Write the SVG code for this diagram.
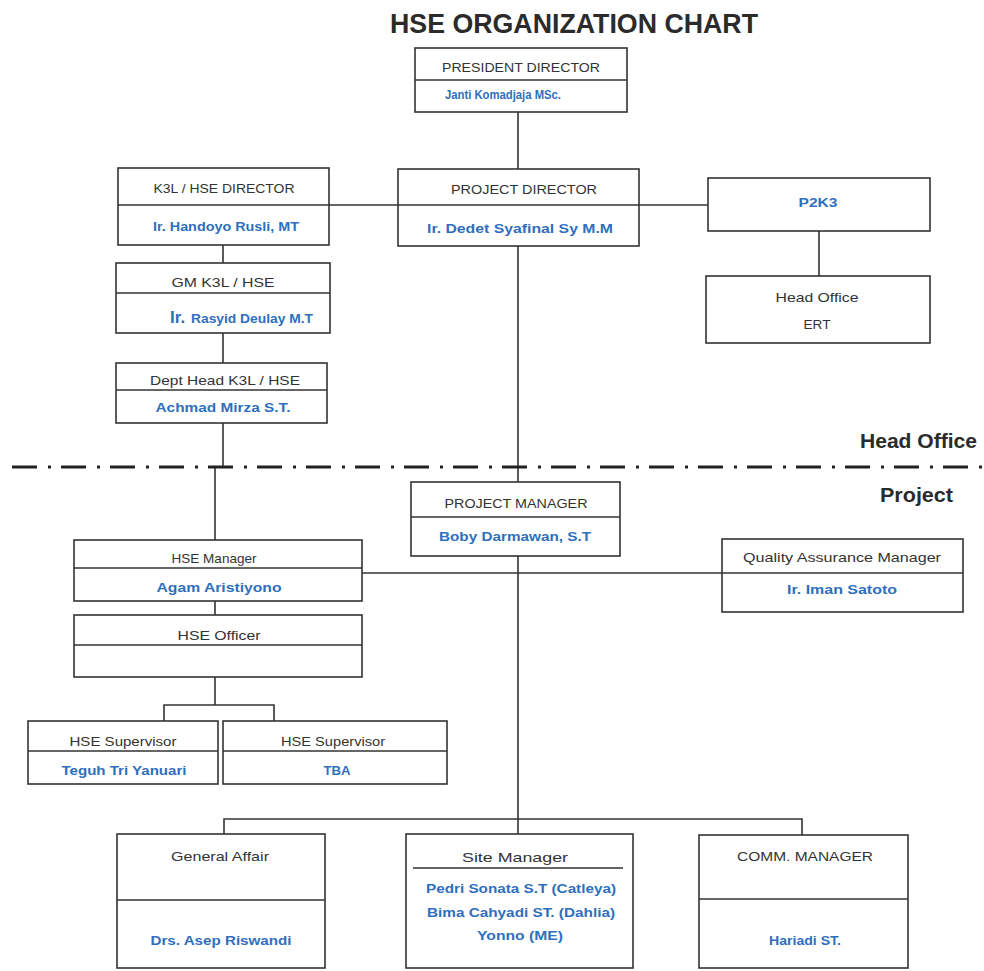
<svg xmlns="http://www.w3.org/2000/svg" width="984" height="971" viewBox="0 0 984 971">
<style>
.box{fill:#fff;stroke:#333;stroke-width:1.6}
.div{stroke:#333;stroke-width:1.4;fill:none}
.con{stroke:#333;stroke-width:1.6;fill:none}
.h{font-family:"Liberation Sans",Arial,sans-serif;font-size:13px;fill:#333;text-anchor:middle}
.n{font-family:"Liberation Sans",Arial,sans-serif;font-size:12px;font-weight:bold;fill:#2f6fbd;text-anchor:middle}
.lbl{font-family:"Liberation Sans",Arial,sans-serif;font-size:21px;font-weight:bold;fill:#2b2b2b}
.title{font-family:"Liberation Sans",Arial,sans-serif;font-size:27px;font-weight:bold;fill:#2b2b2b;text-anchor:middle}
</style>
<rect width="984" height="971" fill="#fff"/>
<text class="title" x="574" y="33" textLength="368" lengthAdjust="spacingAndGlyphs">HSE ORGANIZATION CHART</text>

<g id="connectors">
<path class="con" d="M518 112 V169"/>
<path class="con" d="M329 205 H708"/>
<path class="con" d="M223 245 V263"/>
<path class="con" d="M223 333 V363"/>
<path class="con" d="M223 423 V467"/>
<path class="con" d="M215 467 V540"/>
<path class="con" d="M518 246 V482"/>
<path class="con" d="M819 231 V276"/>
<path class="con" d="M518 556 V834"/>
<path class="con" d="M362 573 H722"/>
<path class="con" d="M215 601 V615"/>
<path class="con" d="M215 677 V705"/>
<path class="con" d="M164 721 V705 H274 V721"/>
<path class="con" d="M224 834 V819 H802 V835"/>
</g>

<g id="divider-line">
<line x1="12" y1="467" x2="984" y2="467" stroke="#222" stroke-width="3" stroke-dasharray="25 11 3 10"/>
<text class="lbl" x="977" y="448" text-anchor="end" textLength="117" lengthAdjust="spacingAndGlyphs">Head Office</text>
<text class="lbl" x="953" y="502" text-anchor="end" textLength="73" lengthAdjust="spacingAndGlyphs">Project</text>
</g>

<g id="president-director">
<rect class="box" x="415" y="48" width="212" height="64"/>
<line class="div" x1="415" y1="80" x2="627" y2="80"/>
<text class="h" x="521" y="72" textLength="158" lengthAdjust="spacingAndGlyphs">PRESIDENT DIRECTOR</text>
<text class="n" x="503" y="99" textLength="116" lengthAdjust="spacingAndGlyphs">Janti Komadjaja MSc.</text>
</g>

<g id="k3l-hse-director">
<rect class="box" x="118" y="168" width="211" height="77"/>
<line class="div" x1="118" y1="205" x2="329" y2="205"/>
<text class="h" x="224" y="193" textLength="141" lengthAdjust="spacingAndGlyphs">K3L / HSE DIRECTOR</text>
<text class="n" x="226" y="231" textLength="146" lengthAdjust="spacingAndGlyphs">Ir. Handoyo Rusli, MT</text>
</g>

<g id="project-director">
<rect class="box" x="398" y="169" width="241" height="77"/>
<line class="div" x1="398" y1="205" x2="639" y2="205"/>
<text class="h" x="524" y="194" textLength="146" lengthAdjust="spacingAndGlyphs">PROJECT DIRECTOR</text>
<text class="n" x="520" y="233" textLength="186" lengthAdjust="spacingAndGlyphs">Ir. Dedet Syafinal Sy M.M</text>
</g>

<g id="p2k3">
<rect class="box" x="708" y="178" width="222" height="53"/>
<text class="n" x="818" y="207" textLength="39" lengthAdjust="spacingAndGlyphs">P2K3</text>
</g>

<g id="head-office-ert">
<rect class="box" x="706" y="276" width="224" height="67"/>
<text class="h" x="817" y="302" textLength="83" lengthAdjust="spacingAndGlyphs">Head Office</text>
<text class="h" x="817" y="329" textLength="27" lengthAdjust="spacingAndGlyphs">ERT</text>
</g>

<g id="gm-k3l-hse">
<rect class="box" x="116" y="263" width="214" height="70"/>
<line class="div" x1="116" y1="293" x2="330" y2="293"/>
<text class="h" x="223" y="287" textLength="103" lengthAdjust="spacingAndGlyphs">GM K3L / HSE</text>
<text class="n" x="170" y="323" style="text-anchor:start;font-size:17px">Ir.</text>
<text class="n" x="191" y="323" style="text-anchor:start" textLength="122" lengthAdjust="spacingAndGlyphs">Rasyid Deulay M.T</text>
</g>

<g id="dept-head-k3l-hse">
<rect class="box" x="116" y="363" width="211" height="60"/>
<line class="div" x1="116" y1="390" x2="327" y2="390"/>
<text class="h" x="225" y="385" textLength="150" lengthAdjust="spacingAndGlyphs">Dept Head K3L / HSE</text>
<text class="n" x="223" y="412" textLength="135" lengthAdjust="spacingAndGlyphs">Achmad Mirza S.T.</text>
</g>

<g id="project-manager">
<rect class="box" x="411" y="482" width="209" height="74"/>
<line class="div" x1="411" y1="517" x2="620" y2="517"/>
<text class="h" x="516" y="508" textLength="143" lengthAdjust="spacingAndGlyphs">PROJECT MANAGER</text>
<text class="n" x="515" y="541" textLength="152" lengthAdjust="spacingAndGlyphs">Boby Darmawan, S.T</text>
</g>

<g id="hse-manager">
<rect class="box" x="74" y="540" width="288" height="61"/>
<line class="div" x1="74" y1="568" x2="362" y2="568"/>
<text class="h" x="214" y="563" textLength="85" lengthAdjust="spacingAndGlyphs">HSE Manager</text>
<text class="n" x="219" y="592" textLength="125" lengthAdjust="spacingAndGlyphs">Agam Aristiyono</text>
</g>

<g id="quality-assurance-manager">
<rect class="box" x="722" y="539" width="241" height="73"/>
<line class="div" x1="722" y1="573" x2="963" y2="573"/>
<text class="h" x="842" y="562" textLength="198" lengthAdjust="spacingAndGlyphs">Quality Assurance Manager</text>
<text class="n" x="842" y="594" textLength="110" lengthAdjust="spacingAndGlyphs">Ir. Iman Satoto</text>
</g>

<g id="hse-officer">
<rect class="box" x="74" y="615" width="288" height="62"/>
<line class="div" x1="74" y1="645" x2="362" y2="645"/>
<text class="h" x="219" y="640" textLength="83" lengthAdjust="spacingAndGlyphs">HSE Officer</text>
</g>

<g id="hse-supervisor-1">
<rect class="box" x="28" y="721" width="190" height="63"/>
<line class="div" x1="28" y1="751" x2="218" y2="751"/>
<text class="h" x="123" y="746" textLength="107" lengthAdjust="spacingAndGlyphs">HSE Supervisor</text>
<text class="n" x="124" y="775" textLength="125" lengthAdjust="spacingAndGlyphs">Teguh Tri Yanuari</text>
</g>

<g id="hse-supervisor-2">
<rect class="box" x="223" y="721" width="224" height="63"/>
<line class="div" x1="223" y1="751" x2="447" y2="751"/>
<text class="h" x="333" y="746" textLength="104" lengthAdjust="spacingAndGlyphs">HSE Supervisor</text>
<text class="n" x="337" y="775" textLength="27" lengthAdjust="spacingAndGlyphs">TBA</text>
</g>

<g id="general-affair">
<rect class="box" x="117" y="834" width="208" height="134"/>
<line class="div" x1="117" y1="900" x2="325" y2="900"/>
<text class="h" x="220" y="861" textLength="98" lengthAdjust="spacingAndGlyphs">General Affair</text>
<text class="n" x="221" y="945" textLength="141" lengthAdjust="spacingAndGlyphs">Drs. Asep Riswandi</text>
</g>

<g id="site-manager">
<rect class="box" x="406" y="834" width="227" height="134"/>
<line class="div" x1="413" y1="868" x2="623" y2="868"/>
<text class="h" x="515" y="862" textLength="106" lengthAdjust="spacingAndGlyphs">Site Manager</text>
<text class="n" x="521" y="893" textLength="190" lengthAdjust="spacingAndGlyphs">Pedri Sonata S.T (Catleya)</text>
<text class="n" x="521" y="917" textLength="188" lengthAdjust="spacingAndGlyphs">Bima Cahyadi ST. (Dahlia)</text>
<text class="n" x="520" y="940" textLength="86" lengthAdjust="spacingAndGlyphs">Yonno (ME)</text>
</g>

<g id="comm-manager">
<rect class="box" x="699" y="835" width="209" height="133"/>
<line class="div" x1="699" y1="899" x2="908" y2="899"/>
<text class="h" x="805" y="861" textLength="136" lengthAdjust="spacingAndGlyphs">COMM. MANAGER</text>
<text class="n" x="805" y="945" textLength="72" lengthAdjust="spacingAndGlyphs">Hariadi ST.</text>
</g>
</svg>
